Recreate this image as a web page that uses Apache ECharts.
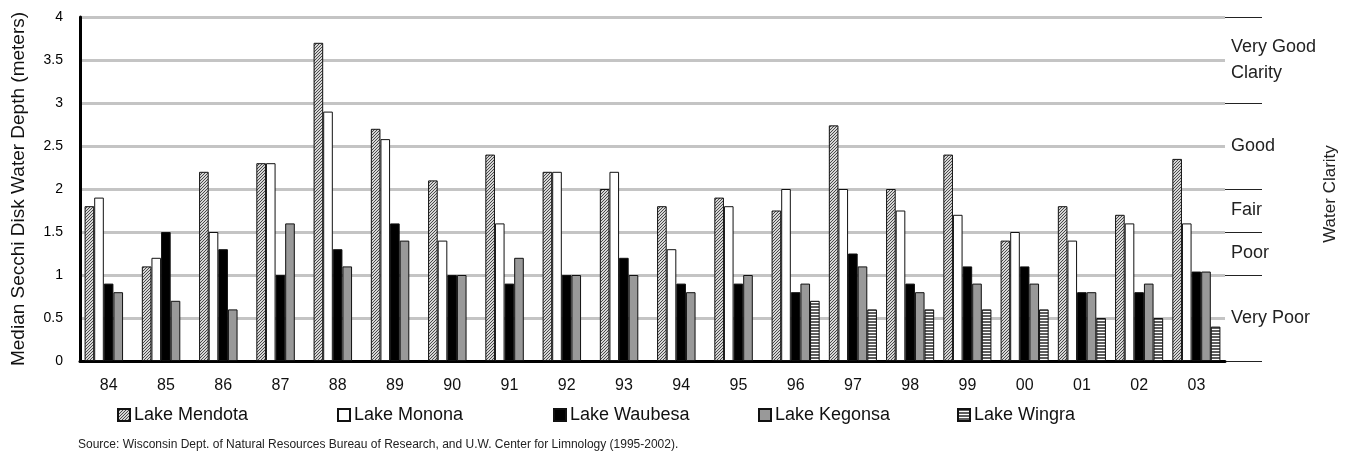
<!DOCTYPE html>
<html>
<head>
<meta charset="utf-8">
<script src="https://cdn.jsdelivr.net/npm/echarts@6/dist/echarts.min.js"></script>
<style>
html,body{margin:0;padding:0;background:#fff;}
#chart{width:1347px;height:458px;}
</style>
</head>
<body>
<div id="chart"></div>
<script>
// ---- data ----
const years = ['84','85','86','87','88','89','90','91','92','93','94','95','96','97','98','99','00','01','02','03'];
const seriesNames = ['Lake Mendota','Lake Monona','Lake Waubesa','Lake Kegonsa','Lake Wingra'];
const mendota = [1.8,1.1,2.2,2.3,3.7,2.7,2.1,2.4,2.2,2.0,1.8,1.9,1.75,2.74,2.0,2.4,1.4,1.8,1.7,2.35];
const monona  = [1.9,1.2,1.5,2.3,2.9,2.58,1.4,1.6,2.2,2.2,1.3,1.8,2.0,2.0,1.75,1.7,1.5,1.4,1.6,1.6];
const waubesa = [0.9,1.5,1.3,1.0,1.3,1.6,1.0,0.9,1.0,1.2,0.9,0.9,0.8,1.25,0.9,1.1,1.1,0.8,0.8,1.04];
const kegonsa = [0.8,0.7,0.6,1.6,1.1,1.4,1.0,1.2,1.0,1.0,0.8,1.0,0.9,1.1,0.8,0.9,0.9,0.8,0.9,1.04];
const wingra  = [null,null,null,null,null,null,null,null,null,null,null,null,0.7,0.6,0.6,0.6,0.6,0.5,0.5,0.4];
const clarityBreaks = [4,3,2,1.5,1,0];
const clarityLabels = ['Very Good\nClarity','Good','Fair','Poor','Very Poor'];
const clarityLabelValues = [3.5,2.5,1.75,1.25,0.5];
const yTitle = 'Median Secchi Disk Water Depth (meters)';
const rightTitle = 'Water Clarity';
const sourceText = 'Source: Wisconsin Dept. of Natural Resources Bureau of Research, and U.W. Center for Limnology (1995-2002).';

// ---- patterns ----
function hatchPattern(){
  const c = document.createElement('canvas'); c.width = 3; c.height = 3;
  const g = c.getContext('2d');
  g.fillStyle = '#d6d6d6'; g.fillRect(0,0,3,3);
  g.fillStyle = '#4a4a4a';
  g.fillRect(2,0,1,1); g.fillRect(1,1,1,1); g.fillRect(0,2,1,1);
  return {image:c, repeat:'repeat'};
}
function stripePattern(){
  const c = document.createElement('canvas'); c.width = 8; c.height = 3;
  const g = c.getContext('2d');
  g.fillStyle = '#5e5e5e'; g.fillRect(0,0,8,3);
  g.fillStyle = '#ffffff'; g.fillRect(0,2,8,1);
  return {image:c, repeat:'repeat'};
}

const FONT = '"Liberation Sans", Arial, Helvetica, sans-serif';
const fills = [hatchPattern(), '#ffffff', '#000000', '#999999', stripePattern()];
const dataSets = [mendota, monona, waubesa, kegonsa, wingra];
const legendLefts = [117, 337, 553, 758, 957];

const chart = echarts.init(document.getElementById('chart'), null, {renderer:'canvas'});

const series = seriesNames.map((n,i)=>({
  name: n, type: 'bar', data: dataSets[i],
  barGap: '0%', barCategoryGap: '16%',
  itemStyle: {color: fills[i], borderColor: '#111', borderWidth: 1},
  emphasis: {disabled: true},
  animation: false
}));

const legends = seriesNames.map((n,i)=>({
  data: [n], left: legendLefts[i], top: 406, padding: 0,
  itemWidth: 12, itemHeight: 12, itemGap: 0, icon: 'rect',
  textStyle: {fontSize: 18, color: '#111', fontFamily: FONT, padding:[0,0,0,-1]},
  selectedMode: false
}));

chart.setOption({
  animation: false,
  textStyle: {fontFamily: FONT},
  grid: {left: 80, right: 122, top: 17, bottom: 97, containLabel: false, outerBoundsMode: 'none'},
  legend: legends,
  xAxis: {
    type: 'category', data: years,
    axisLine: {show: true, lineStyle: {color: '#000', width: 3}},
    axisTick: {show: false},
    axisLabel: {fontSize: 16, color: '#111', margin: 17, fontFamily: FONT},
    splitLine: {show: false}
  },
  yAxis: {
    type: 'value', min: 0, max: 4, interval: 0.5,
    name: yTitle, nameLocation: 'middle', nameGap: 52, nameRotate: 90,
    nameTextStyle: {fontSize: 19, color: '#111', fontFamily: FONT},
    axisLine: {show: true, lineStyle: {color: '#000', width: 3}},
    axisTick: {show: false},
    axisLabel: {fontSize: 14, color: '#000', margin: 17, fontFamily: FONT},
    splitLine: {show: true, lineStyle: {color: '#c4c4c4', width: 3}}
  },
  series: series
});

// ---- right-hand clarity annotations placed via the axes ----
const c0 = chart.convertToPixel({xAxisIndex:0}, years[years.length-2]);
const c1 = chart.convertToPixel({xAxisIndex:0}, years[years.length-1]);
const xr = c1 + (c1 - c0)/2;
const graphics = [];
clarityBreaks.forEach(v=>{
  const y = Math.round(chart.convertToPixel({yAxisIndex:0}, v)) + 0.5;
  graphics.push({type:'line', silent:true, shape:{x1:xr, y1:y, x2:xr+37, y2:y}, style:{stroke:'#222', lineWidth:1}});
});
clarityLabels.forEach((t,i)=>{
  const y = chart.convertToPixel({yAxisIndex:0}, clarityLabelValues[i]);
  graphics.push({type:'text', silent:true, x: xr+6, y: y,
    style:{text:t, fontSize:18, fontFamily:FONT, fill:'#222', textVerticalAlign:'middle', verticalAlign:'middle', lineHeight:26}});
});
const yMid = (chart.convertToPixel({yAxisIndex:0}, 0) + chart.convertToPixel({yAxisIndex:0}, 4))/2;
graphics.push({type:'text', silent:true, x: 1330, y: yMid + 5, rotation: Math.PI/2,
  style:{text:rightTitle, fontSize:17, fontFamily:FONT, fill:'#222', align:'center', verticalAlign:'middle'}});
graphics.push({type:'text', silent:true, left: 78, top: 439,
  style:{text:sourceText, fontSize:12, fontFamily:FONT, fill:'#222'}});
chart.setOption({graphic: graphics});
</script>
</body>
</html>
